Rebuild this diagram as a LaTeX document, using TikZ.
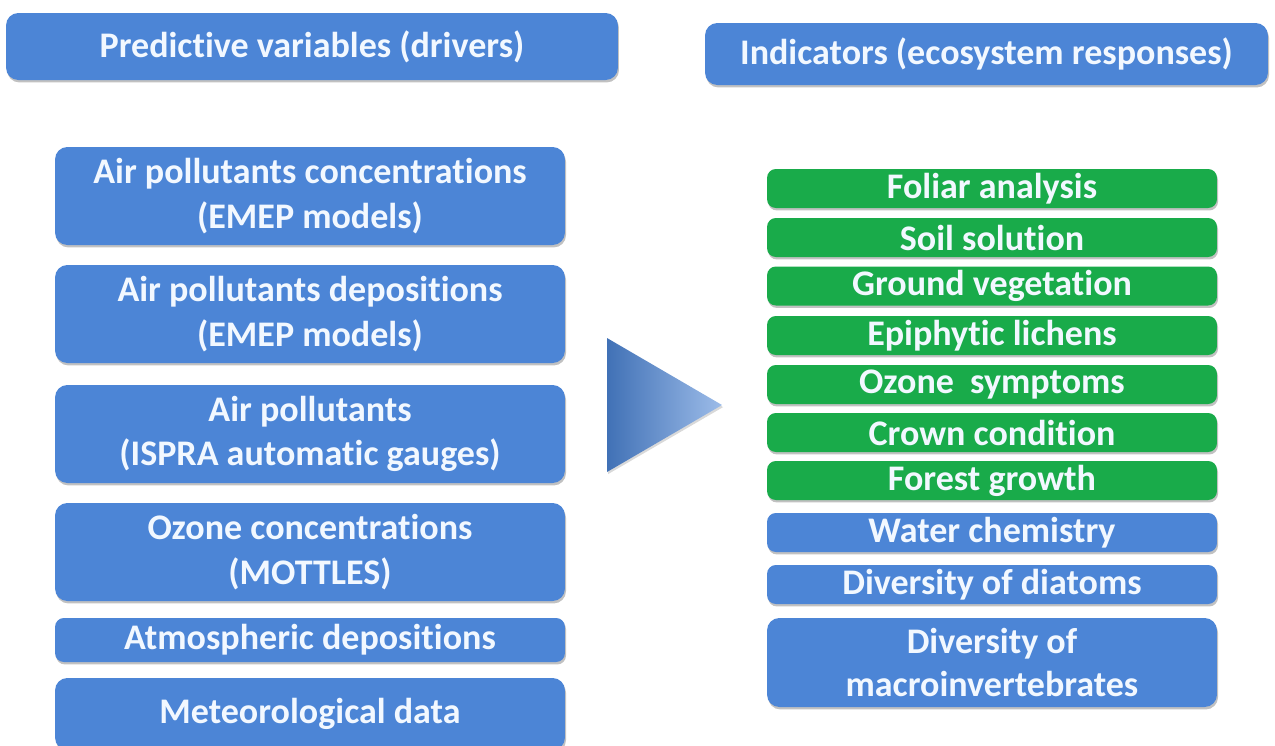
\documentclass[tikz,border=0pt]{standalone}
\usepackage{fontspec}
\setmainfont[Ligatures=NoCommon]{Carlito}
\usetikzlibrary{shadows}
\definecolor{boxblue}{HTML}{4C85D6}
\definecolor{boxgreen}{HTML}{19AB4A}
\definecolor{txtwhite}{HTML}{F2F8FF}
\begin{document}
\begin{tikzpicture}[x=0.02cm,y=-0.02cm,
  card/.style={rectangle, rounded corners=7pt, fill=boxblue, text=txtwhite,
    font=\bfseries\fontsize{20.5}{24}\selectfont, align=center, inner sep=0pt,
    drop shadow={shadow xshift=0.6pt, shadow yshift=-1.4pt, opacity=0.35, fill=black!70}},
  head/.style={card, minimum height=1.3cm},
  lbox/.style={card, minimum width=10.2cm, font=\bfseries\fontsize{20.5}{25.5}\selectfont},
  rbox/.style={card, minimum width=9.0cm, minimum height=0.78cm, rounded corners=5pt},
  gbox/.style={rbox, fill=boxgreen}]
\useasboundingbox (0,0) rectangle (1275,745);

% column headings
\node[head, minimum width=12.24cm, minimum height=1.34cm] (hl) at (312,46.5) {Predictive variables (drivers)};
\node[head, minimum width=11.26cm, minimum height=1.24cm] (hr) at (986.5,54) {Indicators (ecosystem responses)};

% drivers
\node[lbox, minimum height=1.96cm] (d1) at (310,196) {Air pollutants concentrations\\(EMEP models)};
\node[lbox, minimum height=1.96cm] (d2) at (310,314) {Air pollutants depositions\\(EMEP models)};
\node[lbox, minimum height=1.96cm] (d3) at (310,434) {Air pollutants\\(ISPRA automatic gauges)};
\node[lbox, minimum height=1.96cm] (d4) at (310,552) {Ozone concentrations\\(MOTTLES)};
\node[lbox, minimum height=0.88cm, rounded corners=5pt] (d5) at (310,640) {Atmospheric depositions};
\node[lbox, minimum height=1.44cm] (d6) at (310,714) {Meteorological data};

% arrow between the columns
\shade[left color=boxblue!85!black, right color=boxblue!55!white, drop shadow={shadow xshift=0.6pt, shadow yshift=-1.2pt, opacity=0.3}]
  (607,338) -- (722,405) -- (607,472) -- cycle;

% responses
\node[gbox] (r1) at (992,188.5) {Foliar analysis};
\node[gbox] (r2) at (992,237.5) {Soil solution};
\node[gbox] (r3) at (992,286) {Ground vegetation};
\node[gbox] (r4) at (992,335.5) {Epiphytic lichens};
\node[gbox] (r5) at (992,384.5) {Ozone\ \ symptoms};
\node[gbox] (r6) at (992,432.5) {Crown condition};
\node[gbox] (r7) at (992,480.5) {Forest growth};
\node[rbox] (r8) at (992,532.5) {Water chemistry};
\node[rbox] (r9) at (992,584.5) {Diversity of diatoms};
\node[rbox, minimum height=1.78cm, rounded corners=7pt] (r10) at (992,662.5) {Diversity of\\macroinvertebrates};
\end{tikzpicture}
\end{document}
